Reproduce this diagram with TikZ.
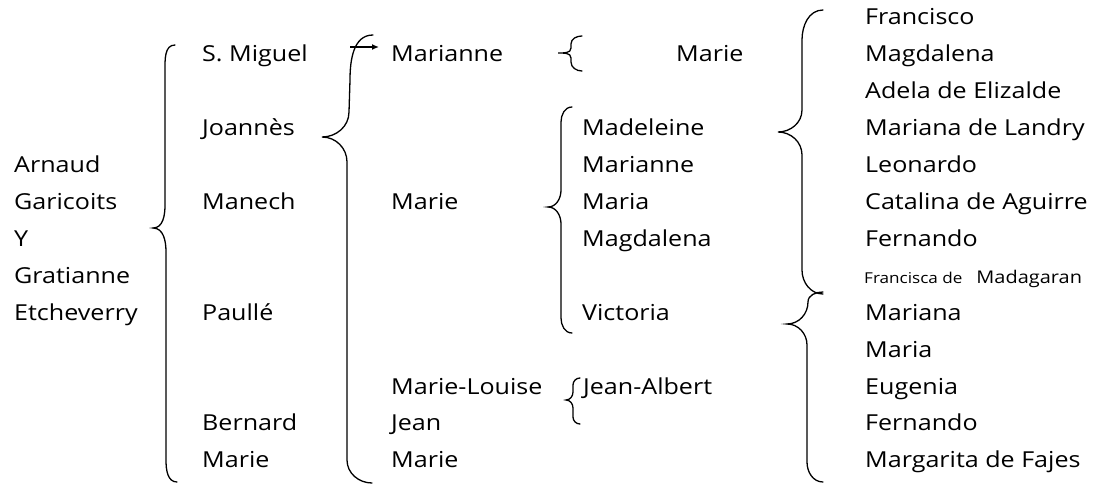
\documentclass[tikz,border=0pt]{standalone}
\usepackage{fontspec}
\setmainfont{Open Sans}[FakeStretch=1.14]
\usetikzlibrary{arrows.meta}
\begin{document}
\begin{tikzpicture}[x=1pt,y=-1pt,
  nm/.style={anchor=base west,inner sep=0pt,font=\fontsize{22}{26}\selectfont},
  br/.style={line width=1.3pt,line cap=round},
  arr/.style={line width=1.3pt,-{Latex[length=7pt,width=6pt]}}]
\useasboundingbox (0,0) rectangle (1106,486);
\def\R#1{\fpeval{25+36.9*#1}}
% column 0
\node[nm] (a0) at (14,{\R{4}}) {Arnaud};
\node[nm] (a1) at (14,{\R{5}}) {Garicoits};
\node[nm] (a2) at (14,{\R{6}}) {Y};
\node[nm] (a3) at (14,{\R{7}}) {Gratianne};
\node[nm] (a4) at (14,{\R{8}}) {Etcheverry};
% column 1
\node[nm] (b0) at (202,{\R{1}}) {S. Miguel};
\node[nm] (b1) at (202,{\R{3}}) {Joannès};
\node[nm] (b2) at (202,{\R{5}}) {Manech};
\node[nm] (b3) at (202,{\R{8}}) {Paullé};
\node[nm] (b4) at (202,{\R{11}}) {Bernard};
\node[nm] (b5) at (202,{\R{12}}) {Marie};
% column 2
\node[nm] (c0) at (391,{\R{1}}) {Marianne};
\node[nm] (c1) at (391,{\R{5}}) {Marie};
\node[nm] (c2) at (391,{\R{10}}) {Marie-Louise};
\node[nm] (c3) at (391,{\R{11}}) {Jean};
\node[nm] (c4) at (391,{\R{12}}) {Marie};
% column 3
\node[nm] (d0) at (676,{\R{1}}) {Marie};
\node[nm] (d1) at (582,{\R{3}}) {Madeleine};
\node[nm] (d2) at (582,{\R{4}}) {Marianne};
\node[nm] (d3) at (582,{\R{5}}) {Maria};
\node[nm] (d4) at (582,{\R{6}}) {Magdalena};
\node[nm] (d5) at (582,{\R{8}}) {Victoria};
\node[nm] (d6) at (583,{\R{10}}) {Jean-Albert};
% column 4
\node[nm] (e0) at (865,{\R{0}}) {Francisco};
\node[nm] (e1) at (865,{\R{1}}) {Magdalena};
\node[nm] (e2) at (865,{\R{2}}) {Adela de Elizalde};
\node[nm] (e3) at (865,{\R{3}}) {Mariana de Landry};
\node[nm] (e4) at (865,{\R{4}}) {Leonardo};
\node[nm] (e5) at (865,{\R{5}}) {Catalina de Aguirre};
\node[nm] (e6) at (865,{\R{6}}) {Fernando};
\node[nm] (e7) at (864,{\R{7}}) {{\fontsize{15}{18}\selectfont Francisca de}\hspace{14pt}{\fontsize{17.5}{22}\selectfont Madagaran}};
\node[nm] (e8) at (865,{\R{8}}) {Mariana};
\node[nm] (e9) at (865,{\R{9}}) {Maria};
\node[nm] (e10) at (865,{\R{10}}) {Eugenia};
\node[nm] (e11) at (865,{\R{11}}) {Fernando};
\node[nm] (e12) at (865,{\R{12}}) {Margarita de Fajes};
% brace 1
\draw[br] (175,45) to[out=180,in=90] (165,70) -- (165,205) to[out=-90,in=0] (153,228)
  to[out=0,in=90] (166,252) -- (166,460) to[out=-90,in=180] (177,482);
% brace 2
\draw[br] (373,35) to[out=180,in=90] (350,80) -- (349,112) to[out=-90,in=0] (322,137)
  to[out=0,in=90] (347,162) -- (347,460) to[out=-90,in=180] (372,483);
\coordinate (arrs) at (350,47);
\draw[arr] (arrs) -- ([xshift=-12pt]c0.west |- arrs);
% small brace Marianne -> Marie
\draw[br] (582,36) to[out=180,in=90] (571,44) -- (571,48) to[out=-90,in=0] (558,53)
  to[out=0,in=90] (571,58) -- (571,62) to[out=-90,in=180] (582,71);
% brace Madeleine..Victoria
\draw[br] (572,107) to[out=180,in=90] (561,122) -- (561,190) to[out=-90,in=0] (548,207)
  to[out=0,in=90] (561,224) -- (561,318) to[out=-90,in=180] (572,333);
% brace Jean-Albert
\draw[br] (580,378) to[out=180,in=90] (573,385) -- (573,392) to[out=-90,in=0] (566,400)
  to[out=0,in=90] (573,408) -- (573,417) to[out=-90,in=180] (580,424);
% big brace right top
\draw[br] (823,10) to[out=180,in=90] (802,40) -- (802,110) to[out=-90,in=0] (778,132)
  to[out=0,in=90] (802,155) -- (802,270) to[out=-90,in=180] (823,294);
% lower right brace
\draw[br] (823,292) to[out=180,in=90] (808,302) to[out=-90,in=0] (787,324)
  to[out=0,in=90] (807,345) -- (807,462) to[out=-90,in=180] (823,482);
\end{tikzpicture}
\end{document}
